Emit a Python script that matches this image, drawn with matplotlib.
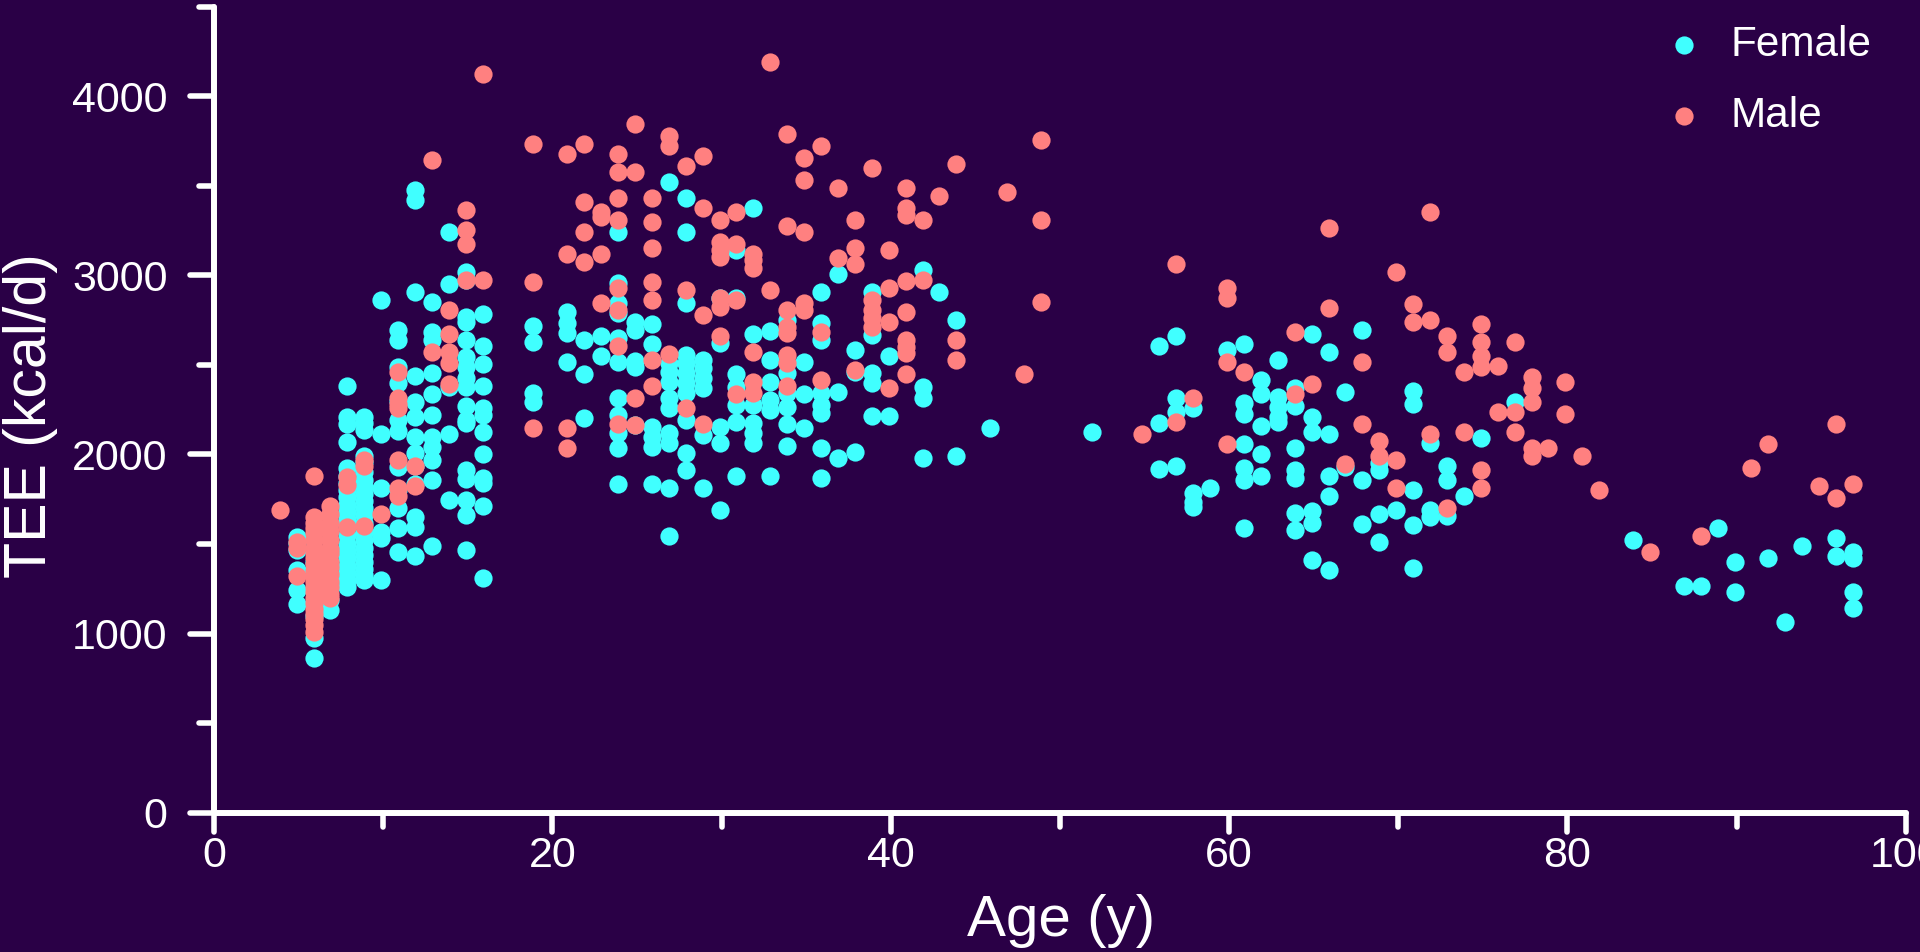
# -*- coding: utf-8 -*-
## TEE against age, split by sex

import matplotlib
matplotlib.use("Agg")
import matplotlib.pyplot as plt
from matplotlib.markers import MarkerStyle, TICKLEFT, TICKDOWN
from matplotlib.transforms import Affine2D

plt.rcParams['font.family'] = ['Liberation Sans', 'DejaVu Sans']

female_ages = [5, 6, 7, 8, 9, 10, 11, 12, 13, 14, 15, 16, 19, 21, 22, 23, 24, 25, 26, 27, 28,
               29, 30, 31, 32, 33, 34, 35, 36, 37, 38, 39, 40, 42, 43, 44, 46, 52, 56, 57,
               58, 59, 60, 61, 62, 63, 64, 65, 66, 67, 68, 69, 70, 71, 72, 73, 74, 75, 77,
               84, 87, 88, 89, 90, 92, 93, 94, 96, 97]
female_tee = [
    [1540, 1504, 1466, 1355, 1243, 1165],
    [1550, 1400, 1250, 1100, 973, 863],
    [1450, 1300, 1190, 1132],
    [2380, 2210, 2170, 2072, 1924, 1880, 1840, 1800, 1760, 1720, 1680, 1640, 1600, 1550, 1500, 1460, 1420, 1380, 1340, 1300, 1258],
    [2210, 2174, 2137, 1990, 1960, 1900, 1860, 1820, 1780, 1740, 1700, 1660, 1620, 1560, 1520, 1480, 1440, 1400, 1360, 1325, 1300],
    [2862, 2114, 1813, 1569, 1532, 1299],
    [2695, 2639, 2490, 2397, 2300, 2190, 2130, 1932, 1800, 1699, 1591, 1457],
    [3476, 3421, 2907, 2438, 2295, 2211, 2100, 2006, 1936, 1833, 1653, 1593, 1433],
    [2851, 2685, 2639, 2457, 2337, 2220, 2100, 2044, 1969, 1857, 1489],
    [3242, 2952, 2378, 2114, 1746],
    [3020, 2974, 2769, 2741, 2639, 2546, 2490, 2425, 2378, 2270, 2192, 2174, 1913, 1861, 1746, 1662, 1466],
    [2784, 2605, 2505, 2382, 2258, 2220, 2125, 2003, 1867, 1839, 1712, 1310],
    [2717, 2626, 2341, 2295],
    [2797, 2732, 2676, 2518],
    [2639, 2449, 2204],
    [2661, 2550],
    [3242, 2955, 2844, 2788, 2648, 2514, 2313, 2220, 2118, 2034, 1835],
    [2741, 2695, 2520, 2486, 2163],
    [2728, 2617, 2155, 2099, 2044, 1835],
    [3521, 2509, 2462, 2406, 2313, 2257, 2118, 2062, 1811, 1545],
    [3432, 3242, 2844, 2555, 2509, 2453, 2397, 2341, 2192, 2010, 1913],
    [2527, 2481, 2425, 2369, 2109, 1813],
    [2872, 2620, 2155, 2062, 1690],
    [3142, 2872, 2449, 2378, 2276, 2181, 1880],
    [3376, 2672, 2276, 2174, 2118, 2062],
    [2691, 2527, 2406, 2304, 2248, 1880],
    [2751, 2453, 2341, 2267, 2170, 2047],
    [2518, 2338, 2146],
    [2907, 2732, 2639, 2341, 2276, 2230, 2036, 1869],
    [3008, 2349, 1980],
    [2583, 2462, 2014],
    [2909, 2667, 2453, 2397, 2215],
    [2550, 2215],
    [3030, 2375, 2313, 1980],
    [2907],
    [2751, 1991],
    [2148],
    [2127],
    [2606, 2178, 1917],
    [2662, 2314, 2239, 1936],
    [2258, 1783, 1737, 1709],
    [1811],
    [2584],
    [2617, 2286, 2226, 2059, 1923, 1858, 1590],
    [2416, 2338, 2159, 2003, 1880],
    [2528, 2323, 2267, 2211, 2183],
    [2370, 2271, 2036, 1914, 1867, 1672, 1579],
    [2673, 2211, 2128, 1687, 1616, 1411],
    [2572, 2115, 1880, 1768, 1355],
    [2349, 1932],
    [2695, 1858, 1612],
    [1951, 1914, 1668, 1512],
    [1690],
    [2353, 2282, 1802, 1605, 1366],
    [2062, 1690, 1653],
    [1936, 1858, 1657],
    [1768],
    [2092],
    [2295],
    [1523],
    [1266],
    [1266],
    [1590],
    [1400, 1232],
    [1422],
    [1065],
    [1489],
    [1534, 1433],
    [1456, 1422, 1232, 1143],
]

male_ages = [4, 5, 6, 7, 8, 9, 10, 11, 12, 13, 14, 15, 16, 19, 21, 22, 23, 24, 25, 26, 27, 28,
             29, 30, 31, 32, 33, 34, 35, 36, 37, 38, 39, 40, 41, 42, 43, 44, 47, 48, 49, 55,
             57, 58, 60, 61, 64, 65, 66, 67, 68, 69, 70, 71, 72, 73, 74, 75, 76, 77, 78, 79,
             80, 81, 82, 85, 88, 91, 92, 95, 96, 97]
male_tee = [
    [1690],
    [1510, 1480, 1321],
    [1880, 1653, 1620, 1590, 1560, 1520, 1480, 1450, 1420, 1390, 1350, 1320, 1290, 1260, 1230, 1200, 1170, 1140, 1110, 1080, 1050, 1010],
    [1712, 1670, 1620, 1570, 1520, 1470, 1450, 1400, 1370, 1330, 1290, 1260, 1220, 1197],
    [1876, 1830, 1593],
    [1967, 1937, 1600],
    [1668],
    [2462, 2313, 2280, 2257, 1969, 1811, 1768],
    [1936, 1826],
    [3644, 2574],
    [2806, 2672, 2574, 2509, 2393],
    [3365, 3253, 3175, 2974],
    [4124, 2974],
    [3733, 2963, 2148],
    [3678, 3119, 2148, 2036],
    [3733, 3408, 3242, 3075],
    [3356, 3328, 3119, 2844],
    [3678, 3577, 3432, 3309, 2928, 2807, 2605, 2170],
    [3845, 3577, 2315, 2163],
    [3432, 3298, 3153, 2963, 2862, 2527, 2382],
    [3778, 3722, 2561],
    [3611, 2918, 2259],
    [3666, 3376, 2779, 2170],
    [3309, 3186, 3142, 3104, 2872, 2825, 2661],
    [3354, 3175, 2862, 2338],
    [3119, 3086, 3039, 2572, 2406, 2341],
    [4191, 2918],
    [3789, 3275, 2807, 2713, 2676, 2555, 2509, 2382],
    [3655, 3532, 3244, 2844, 2807],
    [3722, 2685, 2416],
    [3488, 3097],
    [3309, 3153, 3063, 2472],
    [3599, 2862, 2807, 2760, 2714],
    [3142, 2928, 2741, 2369],
    [3488, 3374, 3337, 2970, 2795, 2639, 2602, 2565, 2449],
    [3309, 2974],
    [3443],
    [3622, 2639, 2527],
    [3465],
    [2449],
    [3756, 3309, 2851],
    [2115],
    [3064, 2182],
    [2316],
    [2930, 2874, 2517, 2059],
    [2461],
    [2684, 2338],
    [2394],
    [3265, 2818],
    [1947],
    [2517, 2170],
    [2074, 1992],
    [3019, 1969, 1813],
    [2840, 2740],
    [3354, 2751, 2115],
    [2662, 2572, 1701],
    [2461, 2126],
    [2729, 2626, 2550, 2490, 1914, 1813],
    [2494, 2237],
    [2628, 2237, 2126],
    [2430, 2369, 2293, 2034, 1992],
    [2034],
    [2407, 2226],
    [1992],
    [1802],
    [1456],
    [1545],
    [1925],
    [2059],
    [1824],
    [2170, 1757],
    [1835],
]

x_major = [0, 20, 40, 60, 80, 100]
x_minor = [10, 30, 50, 70, 90]
y_major = [0, 1000, 2000, 3000, 4000]
y_minor = [500, 1500, 2500, 3500, 4500]

## Flatten the lists per age

def flatten(ages, tees):
    x, y = [], []
    for a, values in zip(ages, tees):
        for v in values:
            x.append(a)
            y.append(v)
    return x, y

bg = '#2a0046'
fig = plt.figure(figsize=(19.2, 9.52), dpi=100, facecolor=bg)
ax = fig.add_axes([214/1920, 1 - 812.7/952, 1691.7/1920, 806/952], facecolor=bg)

fx, fy = flatten(female_ages, female_tee)
mx, my = flatten(male_ages, male_tee)

# the dots sit a hair left of the ticks in the original
shift = ax.transData + Affine2D().translate(-2, 0)
ax.scatter(fx, fy, s=172, color='#40ffff', linewidths=0, label='Female', zorder=3, transform=shift)
ax.scatter(mx, my, s=172, color='#ff8080', linewidths=0, label='Male', zorder=4, transform=shift)

ax.set_xlim(0, 100)
ax.set_ylim(0, 4500)
ax.set_xticks(x_major)
ax.set_xticks(x_minor, minor=True)
ax.set_yticks(y_major)
ax.set_yticks(y_minor, minor=True)

for side in ['top', 'right']:
    ax.spines[side].set_visible(False)
for side in ['left', 'bottom']:
    ax.spines[side].set_linewidth(4.3)
    ax.spines[side].set_color('white')
    ax.spines[side].set_capstyle('round')

ax.tick_params(axis='x', which='major', length=14, width=4, color='white',
               labelcolor='white', labelsize=31, pad=3)
ax.tick_params(axis='x', which='minor', length=10, width=4, color='white')
ax.tick_params(axis='y', which='major', length=17, width=4, color='white',
               labelcolor='white', labelsize=31, pad=16.5)
ax.tick_params(axis='y', which='minor', length=11, width=4, color='white')

# round ends on the ticks
for t in ax.yaxis.get_major_ticks() + ax.yaxis.get_minor_ticks():
    t.tick1line.set_marker(MarkerStyle(TICKLEFT, capstyle='round'))
for t in ax.xaxis.get_major_ticks() + ax.xaxis.get_minor_ticks():
    t.tick1line.set_marker(MarkerStyle(TICKDOWN, capstyle='round'))

fig.text(1061/1920, 1 - 921/952, 'Age (y)', color='white', fontsize=42, ha='center', va='center')
fig.text(31/1920, 1 - 416/952, 'TEE (kcal/d)', color='white', fontsize=42.5, ha='center',
         va='center', rotation=90)

leg = ax.legend(loc='upper right', bbox_to_anchor=(1871/1920, 1 - 25/952),
                bbox_transform=fig.transFigure, frameon=False, fontsize=30.4,
                handlelength=1, handletextpad=0.59, labelspacing=0.73,
                borderpad=0, borderaxespad=0, scatterpoints=1)
for text in leg.get_texts():
    text.set_color('white')

fig.savefig('out.png', dpi=100, facecolor=bg)
